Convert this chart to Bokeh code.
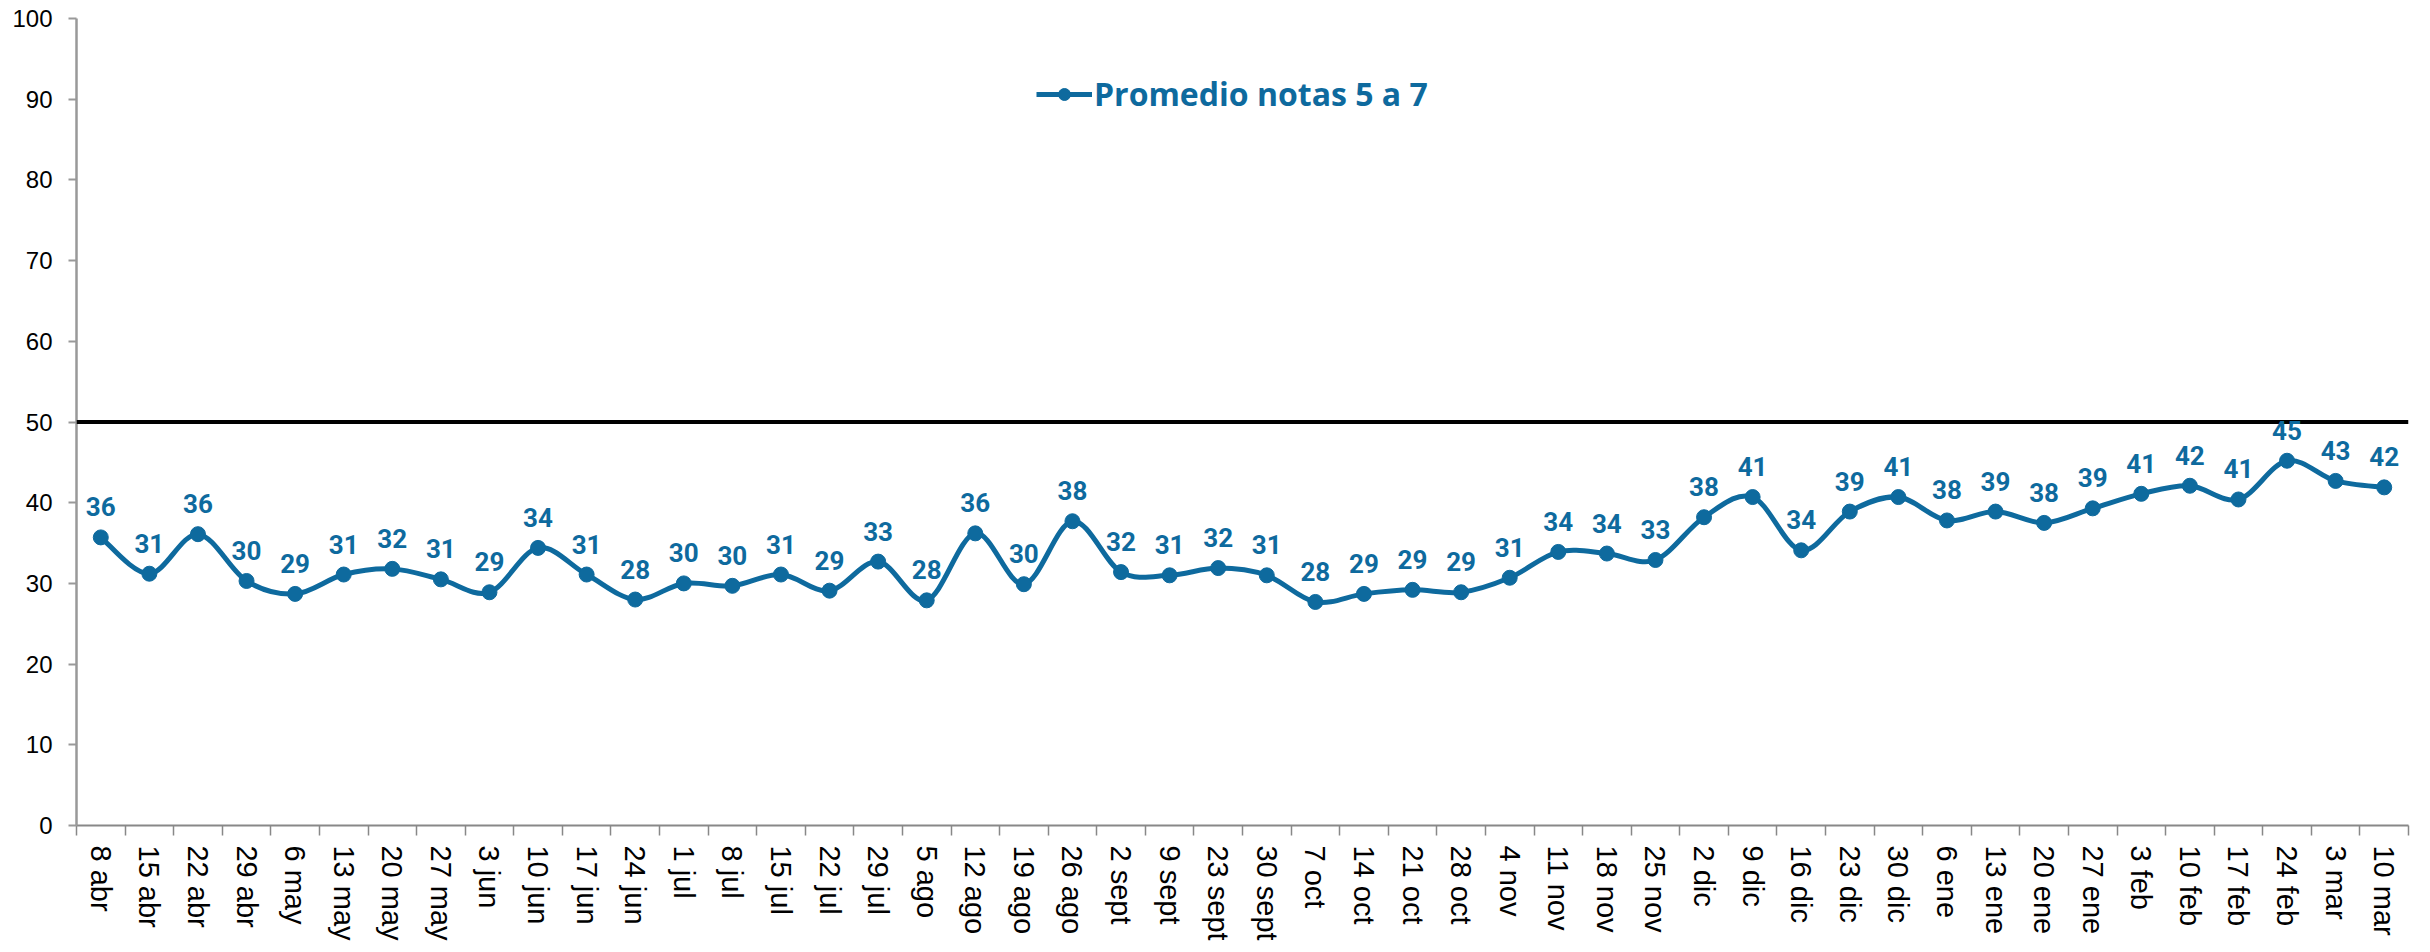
from bokeh.plotting import figure
from bokeh.models import (ColumnDataSource, LabelSet, Span, FixedTicker, Range1d,
                          Legend, LegendItem)
from bokeh.core.properties import value
from bokeh.embed import file_html
from bokeh.resources import INLINE

# ---- data ----
categories = ["8 abr", "15 abr", "22 abr", "29 abr", "6 may", "13 may", "20 may", "27 may",
              "3 jun", "10 jun", "17 jun", "24 jun", "1 jul", "8 jul", "15 jul", "22 jul",
              "29 jul", "5 ago", "12 ago", "19 ago", "26 ago", "2 sept", "9 sept", "23 sept",
              "30 sept", "7 oct", "14 oct", "21 oct", "28 oct", "4 nov", "11 nov", "18 nov",
              "25 nov", "2 dic", "9 dic", "16 dic", "23 dic", "30 dic", "6 ene", "13 ene",
              "20 ene", "27 ene", "3 feb", "10 feb", "17 feb", "24 feb", "3 mar", "10 mar"]
values = [35.7, 31.2, 36.1, 30.3, 28.7, 31.1, 31.8, 30.5, 28.9, 34.4, 31.1, 28.0,
          30.0, 29.7, 31.1, 29.1, 32.7, 27.9, 36.2, 29.9, 37.7, 31.4, 31.0, 31.9,
          31.0, 27.7, 28.7, 29.2, 28.9, 30.7, 33.9, 33.7, 32.9, 38.2, 40.7, 34.1,
          38.9, 40.7, 37.8, 38.9, 37.5, 39.3, 41.1, 42.1, 40.4, 45.2, 42.7, 41.9]
labels = ["36", "31", "36", "30", "29", "31", "32", "31", "29", "34", "31", "28",
          "30", "30", "31", "29", "33", "28", "36", "30", "38", "32", "31", "32",
          "31", "28", "29", "29", "29", "31", "34", "34", "33", "38", "41", "34",
          "39", "41", "38", "39", "38", "39", "41", "42", "41", "45", "43", "42"]
series_name = "Promedio notas 5 a 7"
threshold = 50
y_ticks = [0, 10, 20, 30, 40, 50, 60, 70, 80, 90, 100]

BLUE = "#0E6A9E"

n = len(categories)
xs = list(range(n))

p = figure(width=2414, height=944, output_backend="svg", toolbar_location=None,
           x_range=Range1d(-0.5, n - 0.5), y_range=Range1d(0, 100),
           min_border_left=76, min_border_right=6, min_border_top=18, min_border_bottom=119)
p.outline_line_color = None
p.xgrid.grid_line_color = None
p.ygrid.grid_line_color = None
p.background_fill_color = "white"

# threshold line
p.add_layout(Span(location=threshold, dimension="width", line_color="black", line_width=4))

# smoothed line (Catmull-Rom / bezier segments computed from the data points)
x0, y0, x1, y1, cx0, cy0, cx1, cy1 = [], [], [], [], [], [], [], []
for i in range(n - 1):
    pa = i - 1 if i > 0 else 0
    pb = i + 2 if i + 2 < n else n - 1
    x0.append(xs[i]); y0.append(values[i])
    x1.append(xs[i + 1]); y1.append(values[i + 1])
    cx0.append(xs[i] + (xs[i + 1] - xs[pa]) / 6.0)
    cy0.append(values[i] + (values[i + 1] - values[pa]) / 6.0)
    cx1.append(xs[i + 1] - (xs[pb] - xs[i]) / 6.0)
    cy1.append(values[i + 1] - (values[pb] - values[i]) / 6.0)
p.bezier(x0=x0, y0=y0, x1=x1, y1=y1, cx0=cx0, cy0=cy0, cx1=cx1, cy1=cy1,
         line_color=BLUE, line_width=5)

src = ColumnDataSource(dict(x=xs, y=values, lab=labels))
pts = p.scatter(x="x", y="y", source=src, size=15, fill_color=BLUE, line_color=BLUE)

p.add_layout(LabelSet(x="x", y="y", text="lab", source=src, text_align="center",
                      text_baseline="bottom", y_offset=21, text_color=BLUE,
                      text_font=value("Roboto"), text_font_style="bold",
                      text_font_size="26px"))

# legend
leg_line = p.line(x=[0, 1], y=[-10, -10], line_color=BLUE, line_width=5)
leg = Legend(items=[LegendItem(label=series_name, renderers=[leg_line, pts])],
             location=(960, 710), orientation="horizontal",
             label_text_font="Open Sans", label_text_font_style="bold",
             label_text_font_size="32px", label_text_color=BLUE,
             glyph_width=56, glyph_height=30, label_standoff=2,
             border_line_color=None, background_fill_alpha=0)
p.add_layout(leg, "center")

# y axis
p.yaxis.ticker = FixedTicker(ticks=y_ticks)
p.yaxis.axis_line_color = "#999999"
p.yaxis.axis_line_width = 2.5
p.yaxis.major_tick_line_color = "#999999"
p.yaxis.major_tick_line_width = 2
p.yaxis.major_tick_out = 8
p.yaxis.major_tick_in = 0
p.yaxis.minor_tick_line_color = None
p.yaxis.major_label_standoff = 16
p.yaxis.major_label_text_font = "Liberation Sans"
p.yaxis.major_label_text_font_size = "24px"
p.yaxis.major_label_text_color = "black"

# x axis: labels at category centers, ticks at boundaries
p.xaxis.ticker = FixedTicker(ticks=xs, minor_ticks=[i - 0.5 for i in range(n + 1)])
p.xaxis.major_label_overrides = {i: c for i, c in enumerate(categories)}
p.xaxis.major_label_orientation = "vertical"
p.xaxis.major_tick_line_color = None
p.xaxis.major_tick_out = 10
p.xaxis.minor_tick_line_color = "#888888"
p.xaxis.minor_tick_line_width = 1.5
p.xaxis.minor_tick_out = 10
p.xaxis.minor_tick_in = 0
p.xaxis.axis_line_color = "#888888"
p.xaxis.axis_line_width = 2
p.xaxis.major_label_standoff = 10
p.xaxis.major_label_text_font = "Liberation Sans"
p.xaxis.major_label_text_font_size = "29px"
p.xaxis.major_label_text_color = "black"

open("out.html", "w").write(file_html(p, INLINE))
